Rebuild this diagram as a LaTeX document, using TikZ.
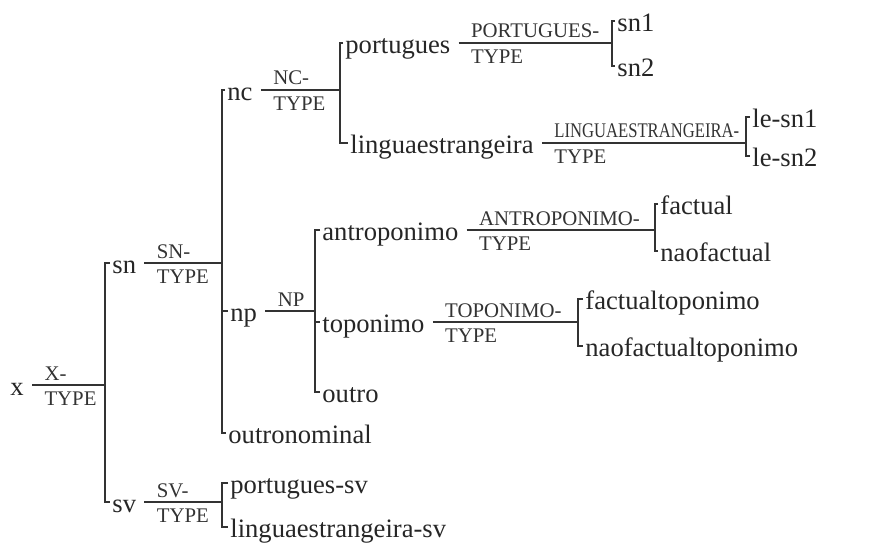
\documentclass[tikz,border=0pt]{standalone}
\usepackage{fontspec}
\setmainfont{Liberation Serif}
\tikzset{
  typ/.style={font=\fontsize{13.3}{15}\selectfont, inner xsep=1pt, inner ysep=0pt,
    text height=10.5pt, text depth=0pt, anchor=west, text=black!85},
  feat/.style={font=\fontsize{10.4}{12}\selectfont, inner sep=0pt, text=black!80},
  hier/.style={line width=1.1pt, draw=black!80},
}
\begin{document}
\begin{tikzpicture}[x=0.5pt,y=-0.5pt]
\useasboundingbox (0,0) rectangle (871,545);
% Hierarchie des types
\node[typ] (x) at (8,385) {x};
\node[typ] (sn) at (110,263) {sn};
\node[typ] (sv) at (110,502) {sv};
\node[typ] (nc) at (225,90) {nc};
\node[typ] (np) at (228,311) {np};
\node[typ] (outronominal) at (226,433) {outronominal};
\node[typ] (portugues) at (343,43) {portugues};
\node[typ] (linguaestrangeira) at (348,143) {linguaestrangeira};
\node[typ] (sn1) at (615,21) {sn1};
\node[typ] (sn2) at (615,66) {sn2};
\node[typ] (lesn1) at (750,117) {le-sn1};
\node[typ] (lesn2) at (750,156) {le-sn2};
\node[typ] (antroponimo) at (320,230) {antroponimo};
\node[typ] (toponimo) at (320,322) {toponimo};
\node[typ] (outro) at (320,392) {outro};
\node[typ] (factual) at (658,204) {factual};
\node[typ] (naofactual) at (658,251) {naofactual};
\node[typ] (factualtop) at (583,299) {factualtoponimo};
\node[typ] (naofactualtop) at (583,346) {naofactualtoponimo};
\node[typ] (portuguessv) at (228,483) {portugues-sv};
\node[typ] (linguaestrangeirasv) at (228,527) {linguaestrangeira-sv};
% barres
\coordinate (bx) at (105,0);
\coordinate (bsn) at (222,0);
\coordinate (bsv) at (222,0);
\coordinate (bnc) at (340,0);
\coordinate (bnp) at (315,0);
\coordinate (bpt) at (612,0);
\coordinate (ble) at (746,0);
\coordinate (ban) at (655,0);
\coordinate (bto) at (578,0);
% x
\coordinate (lx) at ([xshift=3pt]x.east);
\draw[hier] (lx) -- (lx -| bx);
\node[feat,anchor=base west] (xf) at ([shift={(12,-5)}]lx) {X-};
\node[feat,anchor=north west] (xt) at ([shift={(12,6)}]lx) {TYPE};
\draw[hier] (sn.west) -- (sn.west -| bx) -- (sv.west -| bx) -- (sv.west);
% sn
\coordinate (lsn) at ([xshift=3pt]sn.east);
\draw[hier] (lsn) -- (lsn -| bsn);
\node[feat,anchor=base west] (snf) at ([shift={(12,-5)}]lsn) {SN-};
\node[feat,anchor=north west] (snt) at ([shift={(12,6)}]lsn) {TYPE};
\draw[hier] (nc.west) -- (nc.west -| bsn) -- (outronominal.west -| bsn) -- (outronominal.west);
\draw[hier] (np.west -| bsn) -- (np.west);
% sv
\coordinate (lsv) at ([xshift=3pt]sv.east);
\draw[hier] (lsv) -- (lsv -| bsv);
\node[feat,anchor=base west] (svf) at ([shift={(12,-5)}]lsv) {SV-};
\node[feat,anchor=north west] (svt) at ([shift={(12,6)}]lsv) {TYPE};
\draw[hier] (portuguessv.west) -- (portuguessv.west -| bsv) -- (linguaestrangeirasv.west -| bsv) -- (linguaestrangeirasv.west);
% nc
\coordinate (lnc) at ([xshift=3pt]nc.east);
\draw[hier] (lnc) -- (lnc -| bnc);
\node[feat,anchor=base west] (ncf) at ([shift={(12,-5)}]lnc) {NC-};
\node[feat,anchor=north west] (nct) at ([shift={(12,6)}]lnc) {TYPE};
\draw[hier] (portugues.west) -- (portugues.west -| bnc) -- (linguaestrangeira.west -| bnc) -- (linguaestrangeira.west);
% np
\coordinate (lnp) at ([xshift=3pt]np.east);
\draw[hier] (lnp) -- (lnp -| bnp);
\node[feat,anchor=base west] (npf) at ([shift={(12,-5)}]lnp) {NP};
\draw[hier] (antroponimo.west) -- (antroponimo.west -| bnp) -- (outro.west -| bnp) -- (outro.west);
\draw[hier] (toponimo.west -| bnp) -- (toponimo.west);
% portugues
\coordinate (lpt) at ([xshift=3pt]portugues.east);
\draw[hier] (lpt) -- (lpt -| bpt);
\node[feat,anchor=base west] (ptf) at ([shift={(12,-5)}]lpt) {PORTUGUES-};
\node[feat,anchor=north west] (ptt) at ([shift={(12,6)}]lpt) {TYPE};
\draw[hier] (sn1.west) -- (sn1.west -| bpt) -- (sn2.west -| bpt) -- (sn2.west);
% linguaestrangeira
\coordinate (lle) at ([xshift=3pt]linguaestrangeira.east);
\draw[hier] (lle) -- (lle -| ble);
\node[feat,anchor=base west] (lef) at ([shift={(12,-5)}]lle) {\scalebox{0.8}[1]{LINGUAESTRANGEIRA-}};
\node[feat,anchor=north west] (let) at ([shift={(12,6)}]lle) {TYPE};
\draw[hier] (lesn1.west) -- (lesn1.west -| ble) -- (lesn2.west -| ble) -- (lesn2.west);
% antroponimo
\coordinate (lan) at ([xshift=3pt]antroponimo.east);
\draw[hier] (lan) -- (lan -| ban);
\node[feat,anchor=base west] (anf) at ([shift={(12,-5)}]lan) {ANTROPONIMO-};
\node[feat,anchor=north west] (ant) at ([shift={(12,6)}]lan) {TYPE};
\draw[hier] (factual.west) -- (factual.west -| ban) -- (naofactual.west -| ban) -- (naofactual.west);
% toponimo
\coordinate (lto) at ([xshift=3pt]toponimo.east);
\draw[hier] (lto) -- (lto -| bto);
\node[feat,anchor=base west] (tof) at ([shift={(12,-5)}]lto) {TOPONIMO-};
\node[feat,anchor=north west] (tot) at ([shift={(12,6)}]lto) {TYPE};
\draw[hier] (factualtop.west) -- (factualtop.west -| bto) -- (naofactualtop.west -| bto) -- (naofactualtop.west);
\end{tikzpicture}
\end{document}
